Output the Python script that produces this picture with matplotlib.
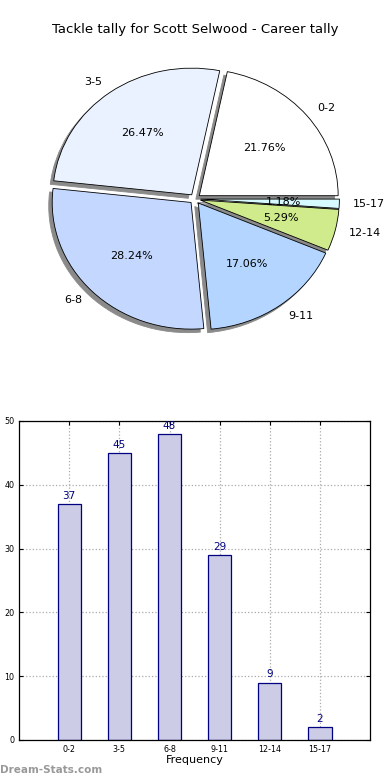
import matplotlib.pyplot as plt

# tackle counts per game, career
categories = ['0-2', '3-5', '6-8', '9-11', '12-14', '15-17']
counts = [37, 45, 48, 29, 9, 2]
pie_colors = ['#FFFFFF', '#EBF2FF', '#C4D8FF', '#B3D5FF', '#CFEB8C', '#D6FAFF']

fig = plt.figure(figsize=(3.9, 7.8), dpi=100)
fig.text(0.5, 0.962, 'Tackle tally for Scott Selwood - Career tally',
         ha='center', va='center', fontsize=9.5)

# pie (slightly stretched horizontally, like the original)
ax1 = fig.add_axes([0.055, 0.542, 0.89, 0.406])
wedges, texts, autotexts = ax1.pie(
    counts, labels=categories, colors=pie_colors, autopct='%.2f%%',
    explode=[0.04] * len(counts),
    shadow={'ox': -0.018, 'oy': -0.02, 'facecolor': '#8A8A8A',
            'edgecolor': '#8A8A8A', 'alpha': 1.0},
    startangle=0, labeldistance=1.1, pctdistance=0.6,
    wedgeprops={'edgecolor': 'black', 'linewidth': 0.6},
    textprops={'fontsize': 8})
ax1.set_aspect('auto')
ax1.set_xlim(-1.25, 1.25)
ax1.set_ylim(-1.25, 1.25)

# bars
ax2 = fig.add_axes([0.049, 0.0513, 0.9, 0.409])
x = list(range(len(categories)))
ax2.bar(x, counts, width=0.46, color='#CCCCE6', edgecolor='navy', linewidth=0.9, zorder=2)
for xi, c in zip(x, counts):
    ax2.text(xi, c + 0.5, str(c), ha='center', va='bottom', color='navy', fontsize=7.5)
ax2.set_xlim(-1, 6)
ax2.set_ylim(0, 50)
ax2.set_xticks(x)
ax2.set_xticklabels(categories)
ax2.set_yticks(range(0, 51, 10))
ax2.tick_params(direction='in', top=True, right=True, labelsize=5.8, length=3)
ax2.grid(True, linestyle=':', color='#AAAAAA', linewidth=0.9, zorder=0)
ax2.set_axisbelow(True)
ax2.set_xlabel('Frequency', fontsize=8, labelpad=1)
for s in ax2.spines.values():
    s.set_linewidth(0.9)

fig.text(0.0, 0.013, 'Dream-Stats.com', ha='left', va='center', fontsize=7.5,
         color='#999999', fontweight='bold')

fig.savefig('out.png', dpi=100)
